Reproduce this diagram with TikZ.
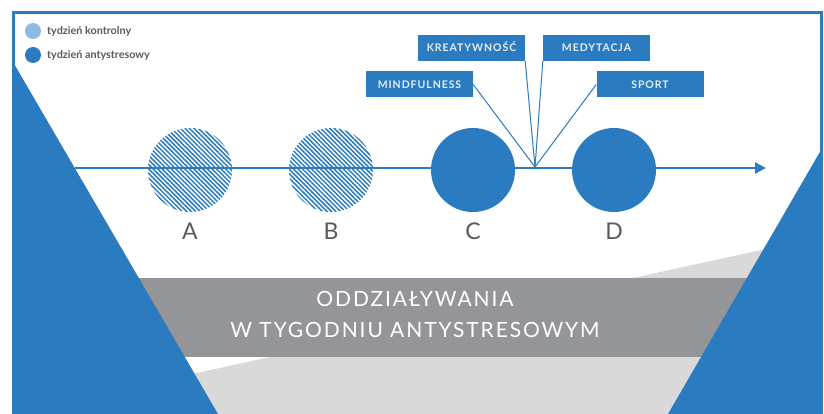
\documentclass[tikz,border=0pt]{standalone}
\usepackage{fontspec}
\setmainfont{Lato}
\usetikzlibrary{arrows.meta,patterns.meta}
\definecolor{myblue}{HTML}{2B7BC0}
\definecolor{lightblue}{HTML}{8DB9E2}
\definecolor{bandgray}{HTML}{939598}
\definecolor{lgray}{HTML}{D9D9DA}
\definecolor{txtgray}{HTML}{58595B}
\definecolor{boxtxt}{HTML}{E6EEF6}
\tikzset{
  boxst/.style={fill=myblue, text=boxtxt, inner sep=0pt, minimum width=107pt, minimum height=26pt,
    font=\fontsize{10.5}{12}\selectfont\bfseries\addfontfeature{LetterSpace=9}, text height=7.6pt, text depth=0pt},
  conn/.style={myblue, line width=1pt},
  hatched/.style={circle, inner sep=0pt, minimum size=84pt,
    pattern={Lines[angle=-45,distance=3.2pt,line width=1.5pt]}, pattern color=myblue},
  solidc/.style={circle, inner sep=0pt, minimum size=84pt, fill=myblue},
  letter/.style={text=txtgray, font=\fontsize{23}{24}\selectfont, text height=16.5pt, text depth=0pt, inner sep=0pt},
  legtxt/.style={text=txtgray, font=\fontsize{10.8}{12}\selectfont\bfseries, anchor=west, inner sep=0pt},
  legdot/.style={circle, inner sep=0pt, minimum size=16pt},
  bandtxt/.style={text=white, font=\fontsize{21}{24}\selectfont\addfontfeature{LetterSpace=9}, text height=15.5pt, text depth=0pt, inner sep=0pt}
}
\begin{document}
\begin{tikzpicture}[x=1pt,y=-1pt]
\useasboundingbox (0,0) rectangle (824,414);
\fill[white] (0,0) rectangle (824,414);
% light gray slanted region
\fill[lgray] (13,414) -- (13,413) -- (821,237) -- (821,414) -- cycle;
% dark gray band
\fill[bandgray] (100,278) rectangle (780,357);
% blue triangles
\fill[myblue] (13,62) -- (218,414) -- (13,414) -- cycle;
\fill[myblue] (821,150) -- (668,414) -- (821,414) -- cycle;
% frame
\draw[myblue, line width=3pt] (13,414) -- (13,13) -- (821,13) -- (821,414);
% legend
\node[legdot, fill=lightblue] (lg1) at (33,31) {};
\node[legtxt] (lt1) at (47,31) {tydzień kontrolny};
\node[legdot, fill=myblue] (lg2) at (33,55) {};
\node[legtxt] (lt2) at (47,55) {tydzień antystresowy};
% circles
\node[hatched] (A) at (190,170) {};
\node[hatched] (B) at (331,170) {};
\node[solidc] (C) at (473,170) {};
\node[solidc] (D) at (614,170) {};
% timeline
\coordinate (start) at (75,168);
\coordinate (end) at (766,168);
\draw[myblue, line width=2.5pt, -{Triangle[length=11pt,width=11pt]}] (start) -- (end);
% labels
\node[letter] (lA) at (190,231) {A};
\node[letter] (lB) at (331,231) {B};
\node[letter] (lC) at (473,231) {C};
\node[letter] (lD) at (614,231) {D};
% boxes
\node[boxst] (mind) at (419.5,84.5) {MINDFULNESS};
\node[boxst] (krea) at (471.5,48) {KREATYWNOŚĆ};
\node[boxst] (medy) at (596.5,48) {MEDYTACJA};
\node[boxst] (sport) at (650,84.5) {SPORT};
\coordinate (hub) at (535,167);
\draw[conn] (mind.east) -- (hub);
\draw[conn] (krea.south east) -- (hub);
\draw[conn] (medy.south west) -- (hub);
\draw[conn] (sport.west) -- (hub);
% band text
\node[bandtxt] (t1) at (415,299) {ODDZIAŁYWANIA};
\node[bandtxt] (t2) at (415,330) {W TYGODNIU ANTYSTRESOWYM};
\end{tikzpicture}
\end{document}
